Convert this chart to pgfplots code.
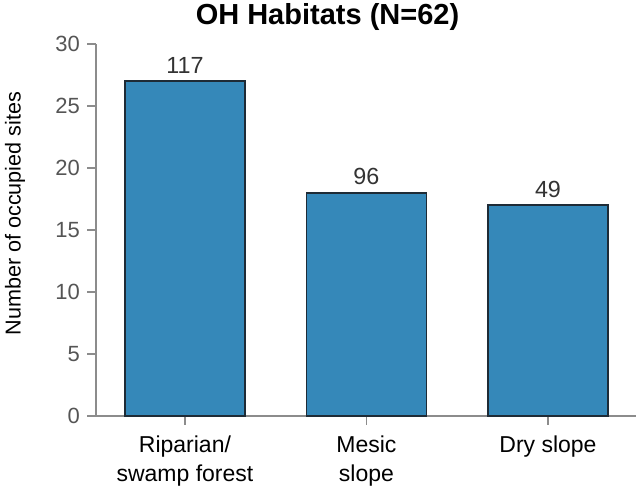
\documentclass[border=0pt]{standalone}
\usepackage{fontspec}
\setmainfont{Liberation Sans}
\usepackage{pgfplots}
\pgfplotsset{compat=1.18}
\definecolor{barblue}{HTML}{3588B9}
\definecolor{baredge}{HTML}{1E2B36}
\definecolor{axgray}{HTML}{8C8C8C}
\definecolor{tkgray}{HTML}{555555}
\definecolor{lblgray}{HTML}{333333}
\begin{document}
\begin{tikzpicture}
\begin{axis}[
    scale only axis,
    width=405pt, height=279pt,
    xmin=-0.49, xmax=2.485,
    ymin=0, ymax=30,
    ytick={0,5,...,30},
    xtick=data,
    xticklabels={{Riparian/\\swamp forest},{Mesic\\slope},{Dry slope}},
    axis x line=bottom, axis y line=left,
    axis line style={axgray, line width=1.2pt, -},
    tick align=outside,
    major tick length=6.5pt,
    tick style={axgray, line width=1.2pt},
    /pgf/number format/assume math mode=true,
    yticklabel style={font=\fontsize{16.5}{19}\selectfont, text=tkgray, xshift=-2pt},
    xticklabel style={font=\fontsize{17.25}{21.75}\selectfont, align=center, text=black, yshift=-5pt},
    title={\textbf{OH Habitats (N=62)}},
    title style={at={(axis description cs:0.4287,1.051)}, anchor=center, font=\fontsize{21.75}{26}\selectfont},
    ylabel={Number of occupied sites},
    ylabel style={at={(axis description cs:-0.15,0.544)}, anchor=center, font=\fontsize{16.2}{19}\selectfont},
    ybar, bar width=90pt,
    nodes near coords,
    point meta=explicit symbolic,
    every node near coord/.append style={font=\fontsize{17.5}{20}\selectfont, text=lblgray, yshift=2pt},
    clip=false,
]
\addplot[fill=barblue, draw=baredge, line width=1.2pt]
    coordinates {(0,27) [117] (1,18) [96] (2,17) [49]};
\coordinate (bl) at (axis description cs:-0.1778,-0.1989);
\coordinate (tr) at (axis description cs:1,1.1183);
\end{axis}
\pgfresetboundingbox
\path[use as bounding box] (bl) rectangle (tr);
\end{tikzpicture}
\end{document}
